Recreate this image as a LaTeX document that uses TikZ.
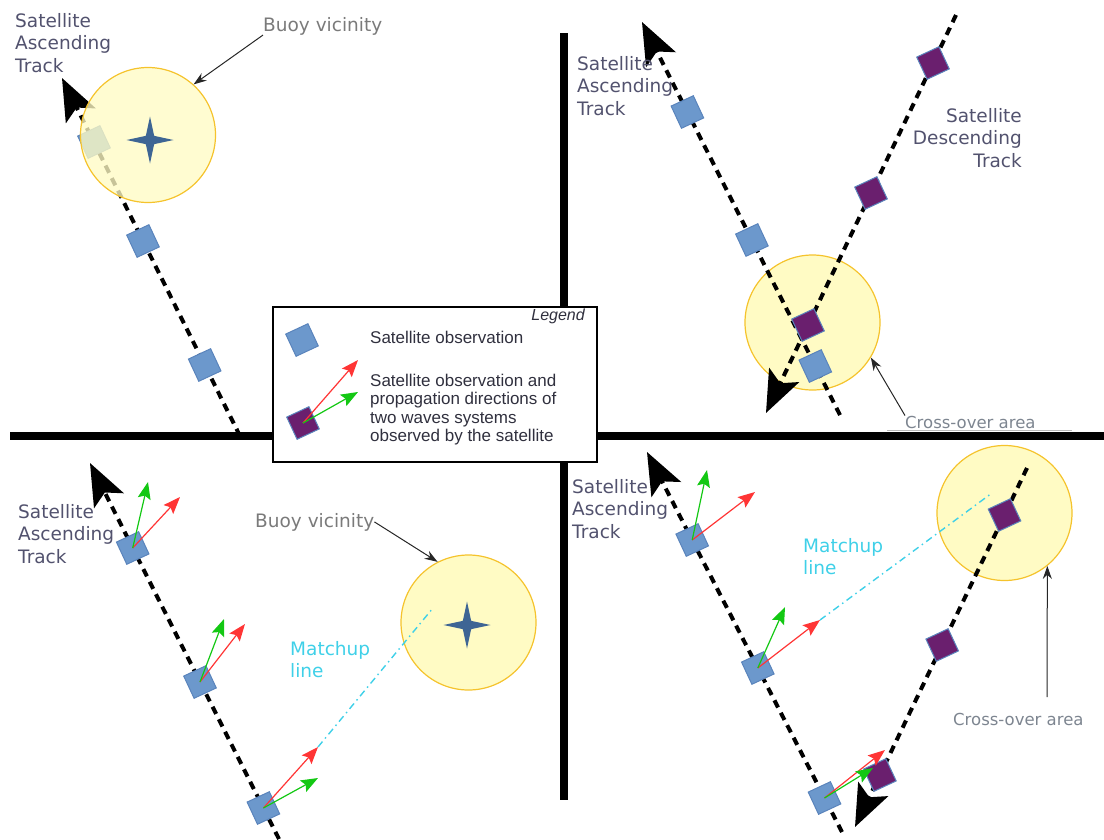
\documentclass[tikz,border=0pt]{standalone}
\usepackage{fontspec}
\setmainfont{DejaVu Sans}
\newfontfamily\legendfont{Liberation Sans}
\usetikzlibrary{arrows.meta,shapes.geometric}
\usepackage{xcolor}

\definecolor{obsblue}{HTML}{6C98CC}
\definecolor{obsedge}{HTML}{5A84BC}
\definecolor{obspurple}{HTML}{6A1F6E}
\definecolor{zonefill}{HTML}{FFFBC4}
\definecolor{zoneedge}{HTML}{F5C32C}
\definecolor{buoyblue}{HTML}{3E6594}
\definecolor{labelink}{HTML}{52526E}
\definecolor{notegray}{HTML}{7A7A7A}
\definecolor{crossgray}{HTML}{7D8590}
\definecolor{matchcyan}{HTML}{3FD0E8}
\definecolor{wavered}{HTML}{FF3535}
\definecolor{wavegreen}{HTML}{13C813}
\definecolor{legendink}{HTML}{30303E}

\tikzset{
  divider/.style={line width=8pt},
  track/.style={line width=4pt, dash pattern=on 8pt off 6pt,
    -{Stealth[length=42pt,width=33pt,inset=9pt]}},
  obs/.style={rectangle, draw=obsedge, fill=obsblue, line width=1pt,
    minimum size=24.5pt, inner sep=0pt, rotate=25},
  obspair/.style={obs, fill=obspurple},
  zone/.style={circle, draw=zoneedge, fill=zonefill, line width=1.2pt,
    minimum size=135pt, inner sep=0pt},
  buoy/.style={star, star points=4, star point ratio=4,
    fill=buoyblue, minimum size=47pt, inner sep=0pt},
  swellA/.style={draw=wavered, line width=1.2pt,
    -{Stealth[length=17pt,width=13pt,inset=3pt]}},
  swellB/.style={draw=wavegreen, line width=1.2pt,
    -{Stealth[length=17pt,width=13pt,inset=3pt]}},
  matchup/.style={draw=matchcyan, line width=1.4pt,
    dash pattern=on 7pt off 4pt on 1.5pt off 4pt},
  pointer/.style={draw=black!85, line width=1pt,
    -{Stealth[length=13pt,width=9pt]}},
  tracklabel/.style={text=labelink, inner sep=0pt,
    font=\fontsize{18.5}{22.5}\selectfont},
  note/.style={text=notegray, inner sep=0pt,
    font=\fontsize{18.5}{22.5}\selectfont},
  crossnote/.style={text=crossgray, inner sep=0pt,
    font=\fontsize{16.5}{20}\selectfont},
  matchnote/.style={text=matchcyan, inner sep=0pt, align=left,
    font=\fontsize{18.5}{22.5}\selectfont},
  legendbox/.style={draw, fill=white, line width=1.3pt,
    minimum width=324pt, minimum height=155pt, inner sep=0pt},
  legendtext/.style={text=legendink, inner sep=0pt,
    font=\legendfont\fontsize{17}{18.3}\selectfont}
}

\begin{document}
\begin{tikzpicture}[x=1pt,y=-1pt]
  \useasboundingbox (0,0) rectangle (1104,839);

  \draw[divider] (10,436) -- (1104,436);
  \draw[divider] (564,33) -- (564,800);
  \draw[gray!55, line width=1pt] (887,430.5) -- (1072,430.5);

  % upper left: one track near the buoy
  \coordinate (tlA) at (240,436);
  \coordinate (tlB) at (62,78);
  \draw[track] (tlA) -- (tlB);
  \node[obs] (tl1) at (204.7,365) {};
  \node[obs] (tl2) at (143,241) {};
  \node[obs] (tl3) at (94,142) {};
  \node[zone, fill opacity=0.78] (zoneTL) at (148,135) {};
  \node[buoy] (starTL) at (150,140) {};
  \node[tracklabel, anchor=north west, align=left] (ascTL) at (15,13)
    {Satellite\\Ascending\\Track};
  \node[note, anchor=base west] (buoyTL) at (263,31) {Buoy vicinity};
  \draw[pointer] (buoyTL.south west) -- (zoneTL.48);

  % upper right: two tracks crossing
  \node[zone] (zoneTR) at (812.5,322.5) {};
  \coordinate (trA) at (840,415);
  \coordinate (trB) at (642,22);
  \coordinate (trC) at (956,15);
  \coordinate (trD) at (766,413);
  \draw[track] (trA) -- (trB);
  \draw[track] (trC) -- (trD);
  \node[obs] (tr1) at (815.3,366) {};
  \node[obs] (tr2) at (751.9,240) {};
  \node[obs] (tr3) at (687.4,112) {};
  \node[obspair] (tr4) at (933,63) {};
  \node[obspair] (tr5) at (871,193) {};
  \node[obspair] (tr6) at (808,325) {};
  \node[tracklabel, anchor=north west, align=left] (ascTR) at (577,56)
    {Satellite\\Ascending\\Track};
  \node[tracklabel, anchor=north east, align=right] (descTR) at (1022,108)
    {Satellite\\Descending\\Track};
  \node[crossnote, anchor=base west] (crossTR) at (905,428) {Cross-over area};
  \draw[pointer] (crossTR.north west) -- (zoneTR.-31);

  % lower left: matchup with the buoy
  \node[zone] (zoneBL) at (468.5,622.5) {};
  \node[buoy] (starBL) at (467,625) {};
  \coordinate (blA) at (279,839);
  \coordinate (blB) at (90,463);
  \draw[track] (blA) -- (blB);
  \node[obs] (bl1) at (132.7,548) {};
  \node[obs] (bl2) at (200,682) {};
  \node[obs] (bl3) at (263.4,808) {};
  \coordinate (bl1r) at (180,497);
  \coordinate (bl1g) at (148,482);
  \coordinate (bl2r) at (245,624);
  \coordinate (bl2g) at (224,619);
  \coordinate (bl3r) at (318,747);
  \coordinate (bl3g) at (318,778);
  \foreach \o in {bl1,bl2,bl3}{
    \draw[swellA] (\o.center) -- (\o r);
    \draw[swellB] (\o.center) -- (\o g);
  }
  \coordinate (matchBL) at (433,608);
  \draw[matchup] (bl3r) -- (matchBL);
  \node[tracklabel, anchor=north west, align=left] (ascBL) at (18,504)
    {Satellite\\Ascending\\Track};
  \node[note, anchor=base west] (buoyBL) at (255,527) {Buoy vicinity};
  \draw[pointer] (buoyBL.east) -- (zoneBL.117);
  \node[matchnote, anchor=north west] (matchBLtext) at (290,641)
    {Matchup\\line};

  % lower right: matchup at the cross-over
  \node[zone] (zoneBR) at (1004.5,513) {};
  \coordinate (brA) at (842,832);
  \coordinate (brB) at (647,452);
  \coordinate (brC) at (1027,468);
  \coordinate (brD) at (855,827);
  \draw[track] (brA) -- (brB);
  \draw[track] (brC) -- (brD);
  \node[obs] (br1) at (692.2,540) {};
  \node[obs] (br2) at (757.8,668) {};
  \node[obs] (br3) at (824.5,798) {};
  \node[obspair] (br4) at (1004.5,515) {};
  \node[obspair] (br5) at (942.2,645) {};
  \node[obspair] (br6) at (879.9,775) {};
  \coordinate (br1r) at (755,492);
  \coordinate (br1g) at (707,470);
  \coordinate (br2r) at (820,620);
  \coordinate (br2g) at (785,607);
  \coordinate (br3r) at (885,750);
  \coordinate (br3g) at (873,768);
  \foreach \o in {br1,br2,br3}{
    \draw[swellA] (\o.center) -- (\o r);
    \draw[swellB] (\o.center) -- (\o g);
  }
  \coordinate (matchBR) at (992,493);
  \draw[matchup] (br2r) -- (matchBR);
  \node[tracklabel, anchor=north west, align=left] (ascBR) at (572,479)
    {Satellite\\Ascending\\Track};
  \node[matchnote, anchor=north west] (matchBRtext) at (803,538)
    {Matchup\\line};
  \node[crossnote, anchor=base west] (crossBR) at (953,725) {Cross-over area};
  \coordinate (crossBRfoot) at (1047,697);
  \draw[pointer] (crossBRfoot) -- (zoneBR.-51);

  % legend
  \node[legendbox] (legend) at (435,384.5) {};
  \node[legendtext, anchor=base east, font=\legendfont\itshape\fontsize{16}{18}\selectfont]
    (legendtitle) at (585,320) {Legend};
  \node[obs] (keyobs) at (302,340) {};
  \node[obspair] (keypair) at (303,423) {};
  \coordinate (keyr) at (358,360);
  \coordinate (keyg) at (358,392);
  \draw[swellA] (keypair.center) -- (keyr);
  \draw[swellB] (keypair.center) -- (keyg);
  \node[legendtext, anchor=base west] (keyobstext) at (370,343)
    {Satellite observation};
  \node[legendtext, anchor=north west, align=left] (keypairtext) at (370,374)
    {Satellite observation and\\propagation directions of\\two waves systems\\observed by the satellite};
\end{tikzpicture}
\end{document}
